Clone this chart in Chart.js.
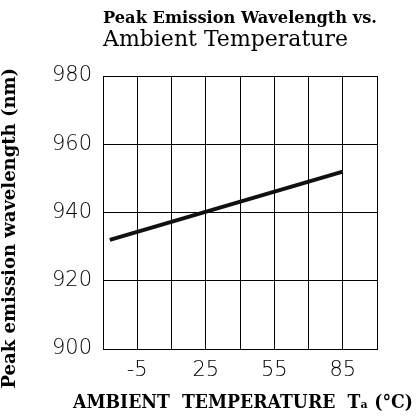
<!DOCTYPE html>
<html>
<head>
<meta charset="utf-8">
<script src="https://cdn.jsdelivr.net/npm/chart.js@4.4.0/dist/chart.umd.min.js"></script>
<style>
  html, body { margin: 0; padding: 0; background: #fff; }
  #wrap { width: 416px; height: 416px; }
</style>
</head>
<body>
<div id="wrap"><canvas id="chart" width="416" height="416"></canvas></div>
<script>
// temperature (°C) vs peak wavelength (nm)
var temps = [-17, 85];
var wavelengths = [932, 952];
var xLabels = [-5, 25, 55, 85];
var yTicks = [900, 920, 940, 960, 980];
var xTitle = 'AMBIENT  TEMPERATURE  Tₐ (°C)';

var tickFont = { family: "'DejaVu Sans'", size: 21, weight: 200 };
var serif = "'DejaVu Serif'";

function pts() {
  return temps.map(function(t, i) { return { x: t, y: wavelengths[i] }; });
}

// scale titles get squeezed to the plot width, so draw the x one here
const xAxisTitle = {
  id: 'xAxisTitle',
  afterDraw(chart) {
    const { ctx, chartArea: { left, right } } = chart
    ctx.save()
    ctx.font = "bold 19px " + serif
    ctx.fillStyle = '#000'
    ctx.textAlign = 'center'
    ctx.textBaseline = 'middle'
    ctx.fillText(xTitle, (left + right) / 2 + 3, 403, 340)
    ctx.restore()
  }
}

var ctx = document.getElementById('chart').getContext('2d');
new Chart(ctx, {
  type: 'scatter',
  data: {
    datasets: [{
      data: pts(),
      showLine: true,
      borderColor: '#111',
      borderWidth: 4,
      pointRadius: 0
    }, {
      data: pts(),
      showLine: true,
      borderColor: '#999',
      borderWidth: 1.8,
      pointRadius: 0
    }]
  },
  options: {
    responsive: false,
    animation: false,
    layout: { padding: { top: 0, right: 39, left: 0, bottom: 0 } },
    plugins: {
      legend: { display: false },
      tooltip: { enabled: false },
      title: {
        display: true,
        text: 'Peak Emission Wavelength vs.',
        color: '#000',
        align: 'start',
        fullSize: false,
        font: { family: serif, size: 17.5, weight: 'bold', lineHeight: 1.2 },
        padding: { top: 8, bottom: 0 }
      },
      subtitle: {
        display: true,
        text: 'Ambient Temperature',
        color: '#000',
        align: 'start',
        fullSize: false,
        font: { family: serif, size: 22, lineHeight: 1 },
        padding: { top: 0, bottom: 25 }
      }
    },
    scales: {
      x: {
        type: 'linear',
        min: -20,
        max: 100,
        afterBuildTicks: function(axis) {
          var t = [];
          for (var v = -20; v <= 100; v += 15) t.push({ value: v });
          axis.ticks = t;
        },
        afterFit: function(axis) { axis.height = 67; },
        grid: { color: '#000', lineWidth: 1, drawTicks: false },
        border: { color: '#000', width: 1 },
        ticks: {
          color: '#000',
          font: tickFont,
          padding: 9,
          maxRotation: 0,
          autoSkip: false,
          callback: function(v) { return xLabels.indexOf(v) >= 0 ? String(v) : ''; }
        },
        title: { display: false }
      },
      y: {
        min: 900,
        max: 980,
        afterBuildTicks: function(axis) {
          axis.ticks = yTicks.map(function(v) { return { value: v }; });
        },
        afterFit: function(axis) { axis.width = 103; },
        grid: { color: '#000', lineWidth: 1, drawTicks: false },
        border: { color: '#000', width: 1 },
        ticks: { color: '#000', font: tickFont, padding: 11 },
        title: {
          display: true,
          text: 'Peak emission wavelength (nm)     ',
          color: '#000',
          font: { family: serif, size: 18, weight: 'bold' },
          padding: { top: 0, bottom: 8 }
        }
      }
    }
  },
  plugins: [xAxisTitle]
});
</script>
</body>
</html>
